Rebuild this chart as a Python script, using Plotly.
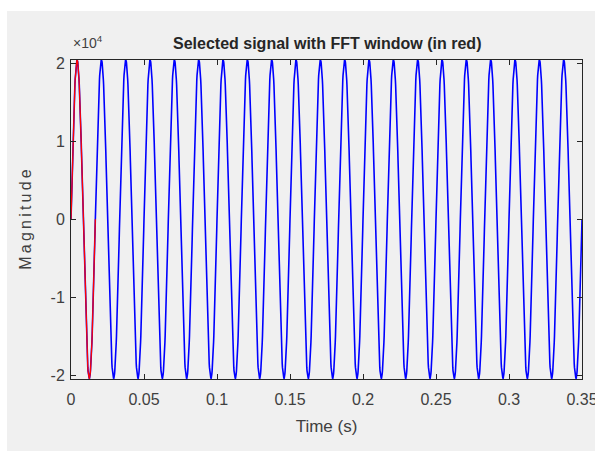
import numpy as np
import plotly.graph_objects as go

# --- data ---
signal_freq_hz = 60          # 21 cycles over 0.35 s
signal_amp = 20400           # peaks touch the axis limits (~2.04e4)
sample_rate_hz = 6000
duration_s = 0.35
window_start_s = 0.0
window_end_s = 1 / 60        # FFT window = first cycle (red)

x_tick_vals = [0, 0.05, 0.1, 0.15, 0.2, 0.25, 0.3, 0.35]
x_tick_text = ["0", "0.05", "0.1", "0.15", "0.2", "0.25", "0.3", "0.35"]
y_tick_vals = [-20000, -10000, 0, 10000, 20000]
y_tick_text = ["-2", "-1", "0", "1", "2"]

t = np.arange(0, duration_s + 1e-12, 1 / sample_rate_hz)
sig = signal_amp * np.sin(2 * np.pi * signal_freq_hz * t)
mask = (t >= window_start_s) & (t <= window_end_s + 1e-12)

AX = "#262626"
FONT = "Liberation Sans, Arial, sans-serif"

fig = go.Figure()
fig.add_trace(go.Scatter(x=t, y=sig, mode="lines",
                         line=dict(color="rgb(0,0,255)", width=1.6),
                         hoverinfo="skip", showlegend=False))
fig.add_trace(go.Scatter(x=t[mask], y=sig[mask], mode="lines",
                         line=dict(color="rgb(255,0,0)", width=1.3),
                         hoverinfo="skip", showlegend=False))

axis_common = dict(showgrid=False, zeroline=False, showline=True, linecolor=AX,
                   linewidth=1, mirror="ticks", ticks="inside", ticklen=5,
                   tickcolor=AX, tickwidth=1, ticklabeloverflow="allow",
                   automargin=False,
                   tickfont=dict(family=FONT, size=16, color="#404040"))

thin = "\u2009"
ylabel = thin.join("Magnitude")

fig.update_layout(
    width=595, height=451,
    margin=dict(l=71, r=13, t=60, b=72, autoexpand=False),
    paper_bgcolor="white", plot_bgcolor="white",
    xaxis=dict(range=[0, 0.35], tickvals=x_tick_vals, ticktext=x_tick_text,
               ticklabelstandoff=6,
               title=dict(text="Time (s)", font=dict(family=FONT, size=17, color="#404040"),
                          standoff=12),
               **axis_common),
    yaxis=dict(range=[-20450, 20400], tickvals=y_tick_vals, ticktext=y_tick_text,
               ticklabelstandoff=2,
               title=dict(text=ylabel, font=dict(family=FONT, size=16, color="#404040"),
                          standoff=14),
               **axis_common),
    shapes=[dict(type="rect", xref="paper", yref="paper", layer="below",
                 x0=(7 - 71) / 511, x1=(595 - 71) / 511 + 0.01,
                 y0=-72 / 319 - 0.01, y1=1 + (60 - 11) / 319,
                 fillcolor="#f0f0f0", line=dict(width=0))],
    annotations=[
        dict(text="<b>Selected signal with FFT window (in red)</b>", xref="paper", yref="paper",
             x=0.5, y=1 + 17 / 319, xanchor="center", yanchor="middle", showarrow=False,
             font=dict(family=FONT, size=16, color=AX)),
        dict(text="×10<sup>4</sup>", xref="paper", yref="paper",
             x=0, y=1 + 18 / 319, xanchor="left", yanchor="middle", showarrow=False,
             font=dict(family=FONT, size=14, color="#404040")),
    ],
)

fig.write_html("out.html")
